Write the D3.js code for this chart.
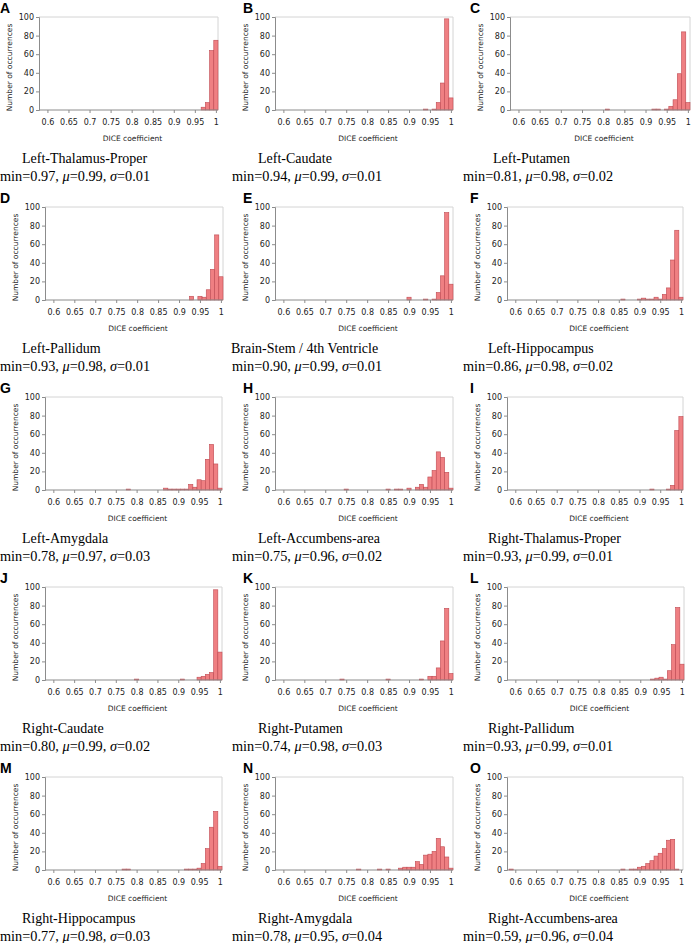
<!DOCTYPE html>
<html>
<head>
<meta charset="utf-8">
<script src="https://cdn.jsdelivr.net/npm/d3@7"></script>
<style>
  html, body { margin: 0; padding: 0; background: #ffffff; }
  svg { display: block; }
</style>
</head>
<body>
<svg id="chart" width="698" height="943"></svg>
<script>
// ---------------- DATA ----------------
const panelLetters = ["A","B","C","D","E","F","G","H","I","J","K","L","M","N","O"];
const regionNames = [
  "Left-Thalamus-Proper","Left-Caudate","Left-Putamen",
  "Left-Pallidum","Brain-Stem / 4th Ventricle","Left-Hippocampus",
  "Left-Amygdala","Left-Accumbens-area","Right-Thalamus-Proper",
  "Right-Caudate","Right-Putamen","Right-Pallidum",
  "Right-Hippocampus","Right-Amygdala","Right-Accumbens-area"
];
const statMin  = ["0.97","0.94","0.81","0.93","0.90","0.86","0.78","0.75","0.93","0.80","0.74","0.93","0.77","0.78","0.59"];
const statMean = ["0.99","0.99","0.98","0.98","0.99","0.98","0.97","0.96","0.99","0.99","0.98","0.99","0.98","0.95","0.96"];
const statSd   = ["0.01","0.01","0.02","0.01","0.01","0.02","0.03","0.02","0.01","0.02","0.03","0.01","0.03","0.04","0.04"];

const xTicks = [0.6, 0.65, 0.7, 0.75, 0.8, 0.85, 0.9, 0.95, 1];
const xTickLabels = ["0.6","0.65","0.7","0.75","0.8","0.85","0.9","0.95","1"];
const yTicks = [0, 20, 40, 60, 80, 100];

// histogram counts: [DICE bin, number of occurrences]
const countsA = [[0.97,3],[0.98,8],[0.99,64],[1.00,75]];
const countsB = [[0.94,1],[0.96,1],[0.97,8],[0.98,29],[0.99,98],[1.00,13]];
const countsC = [[0.81,1],[0.92,1],[0.93,1],[0.95,1],[0.96,4],[0.97,11],[0.98,39],[0.99,84],[1.00,8]];
const countsD = [[0.93,4],[0.95,4],[0.96,3],[0.97,11],[0.98,33],[0.99,70],[1.00,25]];
const countsE = [[0.90,3],[0.94,1],[0.96,1],[0.97,8],[0.98,26],[0.99,94],[1.00,17]];
const countsF = [[0.86,1],[0.90,1],[0.91,2],[0.92,1],[0.93,1],[0.94,3],[0.95,1],[0.96,6],[0.97,13],[0.98,43],[0.99,75],[1.00,3]];
const countsG = [[0.78,1],[0.87,2],[0.88,1],[0.89,1],[0.90,1],[0.91,1],[0.92,1],[0.93,6],[0.94,3],[0.95,11],[0.96,10],[0.97,33],[0.98,49],[0.99,28],[1.00,2]];
const countsH = [[0.75,1],[0.85,1],[0.87,1],[0.88,1],[0.90,2],[0.92,3],[0.93,6],[0.94,3],[0.95,14],[0.96,21],[0.97,41],[0.98,35],[0.99,19],[1.00,2]];
const countsI = [[0.93,1],[0.97,1],[0.98,5],[0.99,64],[1.00,79]];
const countsJ = [[0.80,1],[0.91,1],[0.95,3],[0.96,4],[0.97,6],[0.98,8],[0.99,97],[1.00,30]];
const countsK = [[0.74,1],[0.85,1],[0.93,1],[0.95,4],[0.96,4],[0.97,13],[0.98,42],[0.99,77],[1.00,7]];
const countsL = [[0.93,1],[0.94,2],[0.95,3],[0.96,1],[0.97,10],[0.98,38],[0.99,78],[1.00,17]];
const countsM = [[0.77,1],[0.78,1],[0.92,1],[0.93,1],[0.94,1],[0.95,2],[0.96,7],[0.97,23],[0.98,46],[0.99,63],[1.00,4]];
const countsN = [[0.78,1],[0.83,1],[0.85,1],[0.88,2],[0.89,3],[0.90,3],[0.91,3],[0.92,9],[0.93,6],[0.94,16],[0.95,17],[0.96,20],[0.97,34],[0.98,25],[0.99,14],[1.00,2]];
const countsO = [[0.59,1],[0.86,1],[0.88,1],[0.89,1],[0.90,3],[0.91,4],[0.92,7],[0.93,10],[0.94,15],[0.95,18],[0.96,23],[0.97,32],[0.98,33],[0.99,1]];
const allCounts = [countsA,countsB,countsC,countsD,countsE,countsF,countsG,countsH,countsI,countsJ,countsK,countsL,countsM,countsN,countsO];

// ---------------- LAYOUT ----------------
const plotLeft  = [39,275,510, 45,275,507, 45,275,507, 45,275,507, 45,275,507];
const plotRight = [218,453,690, 223,453,683, 222,453,683, 222,453,684, 222,453,683];
const rowTop = [17, 207, 397, 587, 777];
const plotH = 93;
const letterX = [0, 243, 470];
const titleX = [22,258,493, 22,231,488, 22,258,488, 22,258,488, 22,258,488];
const statX = [0, 232, 463];
const binWidth = 0.01;
const xDomain = [0.58, 1.005];

const fillColor = "#ef7f82";
const strokeColor = "#bf4a52";
const axisColor = "#8c8c8c";
const borderColor = "#d4d4d4";
const sans = "'DejaVu Sans', Verdana, sans-serif";
const serif = "'Liberation Serif', 'Times New Roman', serif";

const svg = d3.select("#chart");

panelLetters.forEach((letter, i) => {
  const row = Math.floor(i / 3), col = i % 3;
  const top = rowTop[row], bottom = top + plotH;
  const left = plotLeft[i], right = plotRight[i];
  const x = d3.scaleLinear().domain(xDomain).range([left, right]);
  const y = d3.scaleLinear().domain([0, 100]).range([bottom, top]);
  const g = svg.append("g");

  // plot-area border (top & right)
  g.append("path")
    .attr("d", `M${left},${top}H${right}V${bottom}`)
    .attr("fill", "none").attr("stroke", borderColor).attr("stroke-width", 1);

  // bars
  g.selectAll("rect.bar").data(allCounts[i]).enter().append("rect")
    .attr("class", "bar")
    .attr("x", d => x(d[0] - binWidth / 2))
    .attr("width", d => x(d[0] + binWidth / 2) - x(d[0] - binWidth / 2))
    .attr("y", d => y(d[1]))
    .attr("height", d => y(0) - y(d[1]))
    .attr("fill", fillColor)
    .attr("stroke", strokeColor)
    .attr("stroke-width", 0.6);

  // y axis
  const yAxis = d3.axisLeft(y).tickValues(yTicks).tickSize(3).tickPadding(2).tickFormat(d3.format("d"));
  const ya = g.append("g").attr("transform", `translate(${left},0)`).call(yAxis);
  ya.select(".domain").attr("stroke", axisColor);
  ya.selectAll(".tick line").attr("stroke", axisColor);
  ya.selectAll(".tick text").attr("fill", "#222").style("font-family", sans).style("font-size", "8px");

  // x axis
  const xAxis = d3.axisBottom(x).tickValues(xTicks).tickSize(3).tickPadding(6)
    .tickFormat((d, k) => xTickLabels[k]);
  const xa = g.append("g").attr("transform", `translate(0,${bottom})`).call(xAxis);
  xa.select(".domain").attr("stroke", axisColor).attr("d", `M${left},0H${right}`);
  xa.selectAll(".tick line").attr("stroke", axisColor);
  xa.selectAll(".tick text").attr("fill", "#222").style("font-family", sans).style("font-size", "8px");

  // axis titles
  g.append("text")
    .attr("x", (left + right) / 2 + 4).attr("y", bottom + 31)
    .attr("text-anchor", "middle")
    .style("font-family", sans).style("font-size", "7.5px").attr("fill", "#222")
    .text("DICE coefficient");
  g.append("text")
    .attr("transform", `translate(${left - 27},${(top + bottom) / 2 + 4}) rotate(-90)`)
    .attr("text-anchor", "middle")
    .style("font-family", sans).style("font-size", "7.5px").attr("fill", "#222")
    .text("Number of occurrences");

  // panel letter
  g.append("text")
    .attr("x", letterX[col]).attr("y", top - 4)
    .style("font-family", "'Liberation Sans', Arial, sans-serif").style("font-weight", "bold").style("font-size", "14px")
    .attr("fill", "#000")
    .text(letter);

  // region name
  g.append("text")
    .attr("x", titleX[i]).attr("y", bottom + 53)
    .style("font-family", serif).style("font-size", "14px").attr("fill", "#000")
    .text(regionNames[i]);

  // stats line
  const st = g.append("text")
    .attr("x", statX[col]).attr("y", bottom + 71)
    .style("font-family", serif).style("font-size", "14.3px").attr("fill", "#000");
  st.append("tspan").text(`min=${statMin[i]}, `);
  st.append("tspan").style("font-style", "italic").text("μ");
  st.append("tspan").text(`=${statMean[i]}, `);
  st.append("tspan").style("font-style", "italic").text("σ");
  st.append("tspan").text(`=${statSd[i]}`);
});
</script>
</body>
</html>
